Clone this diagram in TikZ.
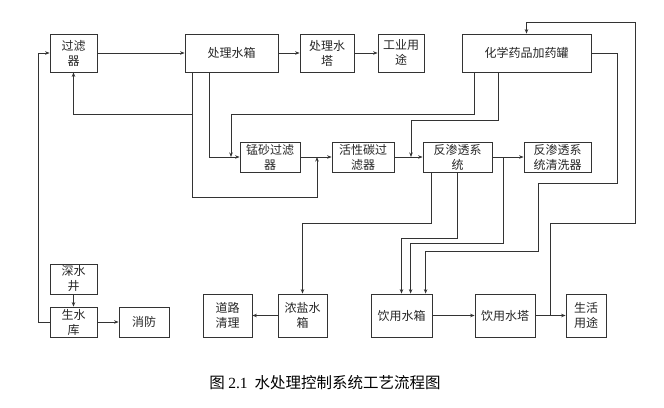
\documentclass[tikz,border=0pt]{standalone}
\usepackage{fontspec}
\setmainfont{Noto Sans CJK SC}
\newfontfamily\capserif{Liberation Serif}
\usetikzlibrary{positioning,calc,arrows.meta}

\begin{document}
\begin{tikzpicture}[x=1pt,y=-1pt,
		box/.style={draw=black!80, line width=0.8pt, inner sep=0pt, align=center, text=black!85, font=\fontsize{12}{15}\selectfont},
		arr/.style={-{Stealth[length=4.5pt,width=3.5pt]}, line width=0.7pt, black!80},
		ln/.style={line width=0.7pt, black!80}]
		\useasboundingbox (0,0) rectangle (664,407);
		% top row
		\node[box, minimum width=47pt, minimum height=38pt] (glq) at (73.5,53) {过滤\\器};
		\node[box, minimum width=93pt, minimum height=38pt] (clsx) at (231.5,53) {处理水箱};
		\node[box, minimum width=54pt, minimum height=38pt] (clst) at (327,53) {处理水\\塔};
		\node[box, minimum width=46pt, minimum height=38pt] (gyyt) at (401,53) {工业用\\途};
		\node[box, minimum width=129pt, minimum height=38pt] (hxyp) at (526.5,53) {化学药品加药罐};
		% middle row
		\node[box, minimum width=60pt, minimum height=30pt] (msglq) at (270,157) {锰砂过滤\\器};
		\node[box, minimum width=62pt, minimum height=30pt] (hxt) at (363,157) {活性碳过\\滤器};
		\node[box, minimum width=69pt, minimum height=30pt] (fst) at (457.5,157) {反渗透系\\统};
		\node[box, minimum width=67pt, minimum height=30pt] (qxq) at (557.5,157) {反渗透系\\统清洗器};
		% bottom row
		\node[box, minimum width=47pt, minimum height=30pt] (ssj) at (73.5,279) {深水\\井};
		\node[box, minimum width=47pt, minimum height=30pt] (ssk) at (73.5,322) {生水\\库};
		\node[box, minimum width=50pt, minimum height=30pt] (xf) at (144,322) {消防};
		\node[box, minimum width=49pt, minimum height=43pt] (dlql) at (227.5,315.5) {道路\\清理};
		\node[box, minimum width=49pt, minimum height=43pt] (nysx) at (302.5,315.5) {浓盐水\\箱};
		\node[box, minimum width=61pt, minimum height=43pt] (yysx) at (401.5,315.5) {饮用水箱};
		\node[box, minimum width=60pt, minimum height=43pt] (yyst) at (505,315.5) {饮用水塔};
		\node[box, minimum width=40pt, minimum height=43pt] (shyt) at (586,315.5) {生活\\用途};
		\node[text=black, font=\fontsize{15.5}{18}\selectfont] (cap) at (325,383) {图 {\capserif 2.1}\ \ 水处理控制系统工艺流程图};
		% junctions
		\coordinate (j0) at (193,114);
		\coordinate (j1) at (317,157);
		\coordinate (j2) at (411,157);
		\coordinate (j3) at (503,157);
		\coordinate (j4) at (550,315.5);
		\coordinate (j5) at (231,157);
		% flow
		\draw[arr] (glq) -- (clsx);
		\draw[arr] (clsx) -- (clst);
		\draw[arr] (clst) -- (gyyt);
		\draw[arr] ([xshift=8pt]clsx.south west) -- ++(0,125) -| (j1);
		\draw[arr] (j0) -| (glq.south);
		\draw[arr] ([xshift=25pt]clsx.south west) |- (msglq);
		\draw[arr] ([xshift=13pt]hxyp.south west) -- ++(0,42) -| (j5);
		\draw[arr] ([xshift=37pt]hxyp.south west) -- ++(0,48) -| (j2);
		\draw[arr] (msglq) -- (hxt);
		\draw[arr] (hxt) -- (fst);
		\draw[arr] (fst) -- (qxq);
		\draw[arr] (hxyp.east) -- ++(26,0) -- ++(0,130) -- ++(-79,0) -- ++(0,68) -| ([xshift=55pt]yysx.north west);
		\draw[arr] (j4) -- ++(0,-92.5) -- ++(85,0) -- ++(0,-201) -| (hxyp.north);
		\draw[arr] ([xshift=9pt]fst.south west) -- ++(0,51) -| (nysx);
		\draw[arr] ([xshift=35pt]fst.south west) -- ++(0,66) -| (yysx);
		\draw[arr] (j3) -- ++(0,86) -| ([xshift=40pt]yysx.north west);
		\draw[arr] (nysx) -- (dlql);
		\draw[arr] (ssj) -- (ssk);
		\draw[arr] (ssk) -- (xf);
		\draw[arr] (ssk.west) -- ++(-11,0) |- (glq.west);
		\draw[arr] (yysx) -- (yyst);
		\draw[arr] (yyst) -- (shyt);
	\end{tikzpicture}
\end{document}
